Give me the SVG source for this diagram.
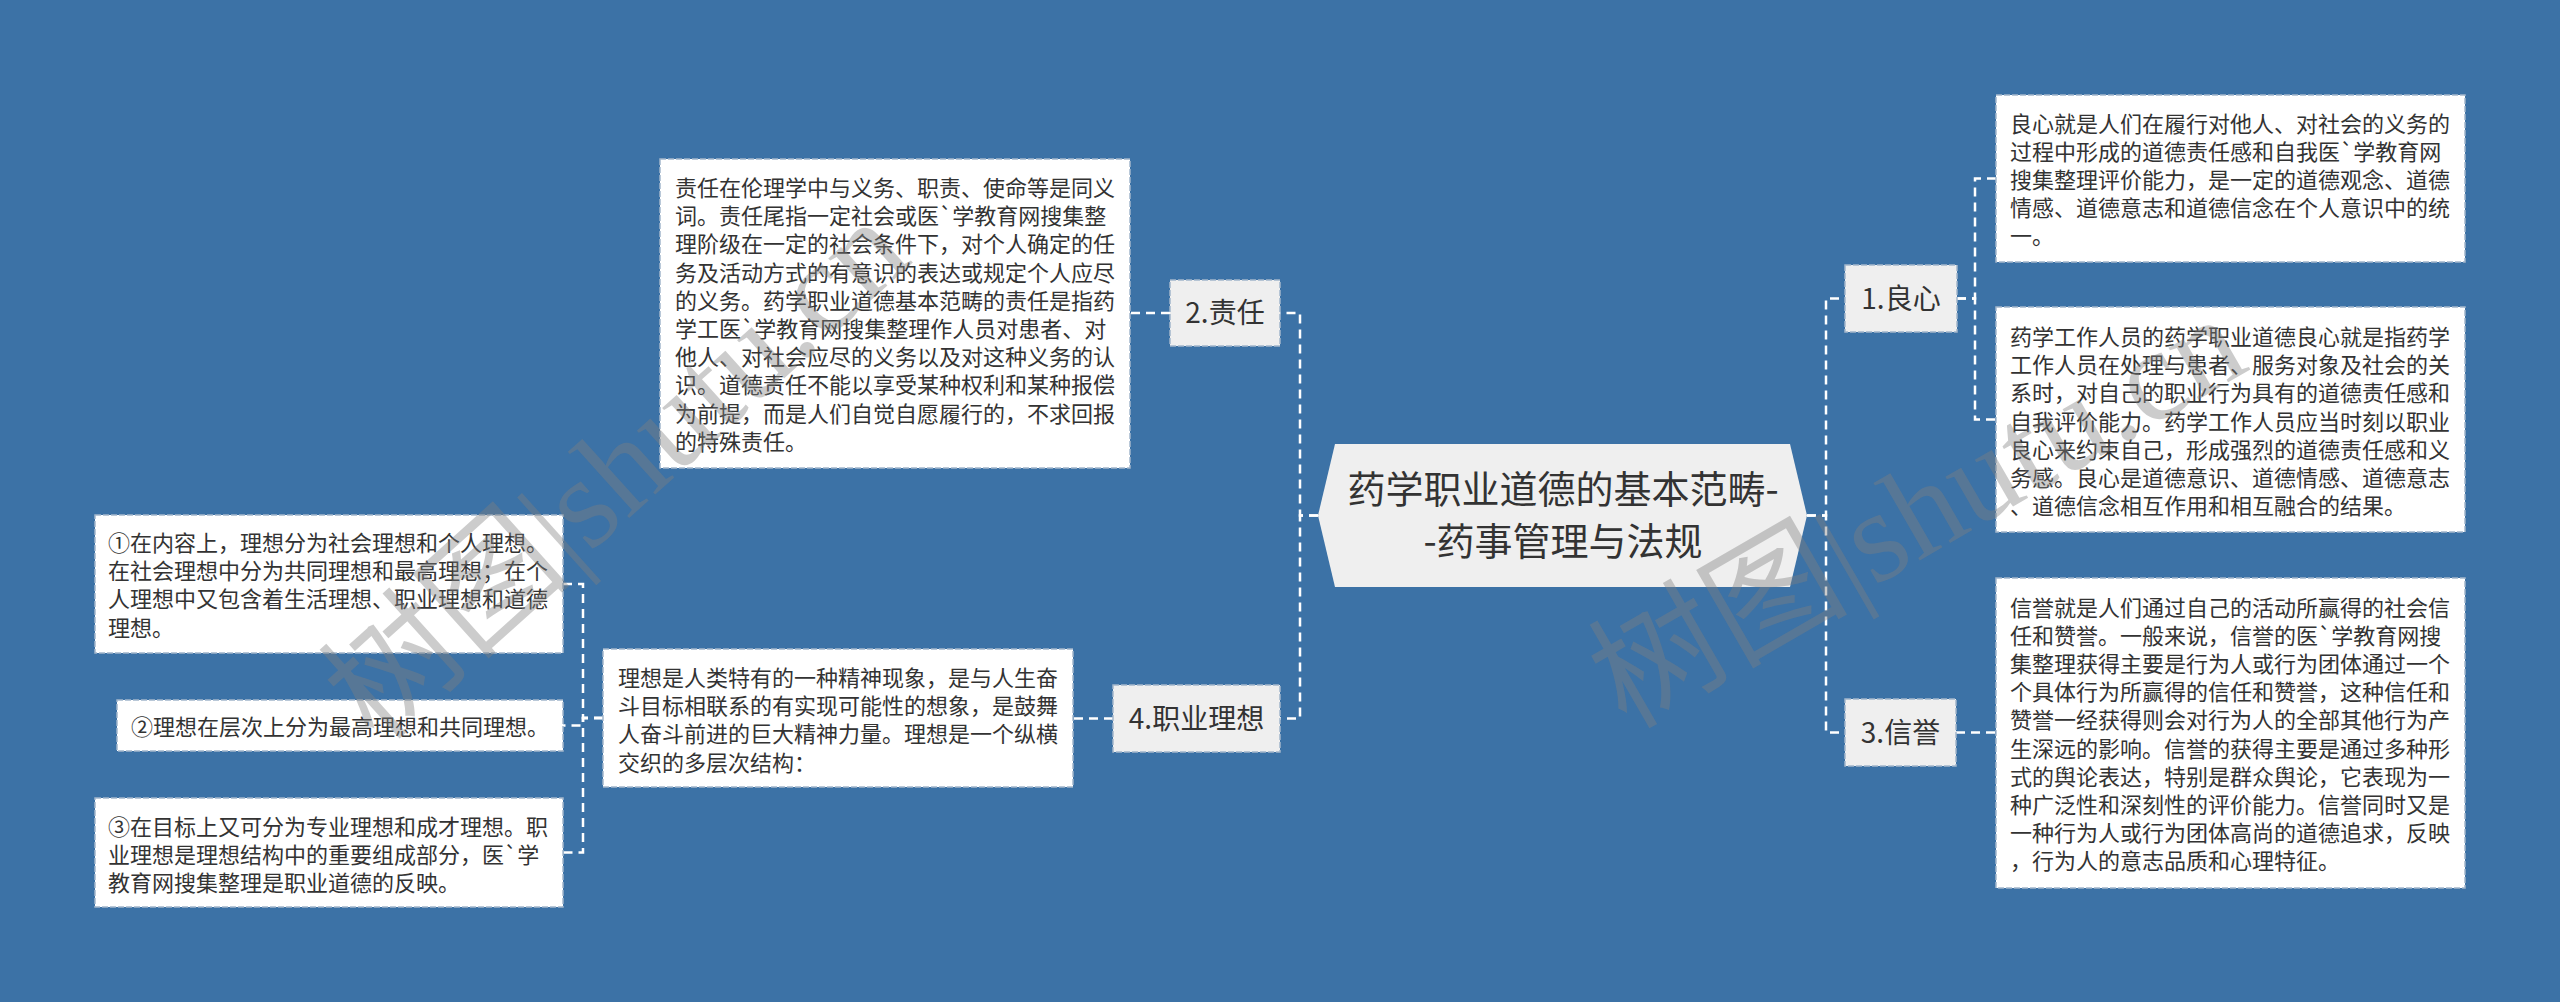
<svg xmlns="http://www.w3.org/2000/svg" width="2560" height="1002" viewBox="0 0 2560 1002">
<style>
.bg{fill:#3c72a6}
.leaf{fill:#ffffff;stroke:#a3b7cb;stroke-width:1.5;stroke-dasharray:6 2}
.branch{fill:#efefef;stroke:#a3b7cb;stroke-width:1.5;stroke-dasharray:6 2}
.t{font-family:"Noto Sans CJK SC","Noto Sans",sans-serif;font-size:22px;fill:#333333}
.bt{font-family:"Noto Sans CJK SC","Noto Sans",sans-serif;font-size:28px;fill:#333333;text-anchor:middle}
.ct{font-family:"Noto Sans CJK SC","Noto Sans",sans-serif;font-size:38px;fill:#333333;text-anchor:middle}
.c{fill:none;stroke:#ffffff;stroke-width:2.5;stroke-dasharray:9 6}
.wm{font-family:"Liberation Serif","Noto Sans CJK SC",serif;font-size:130px;fill:#808080;fill-opacity:0.4}
</style>
<rect class="bg" x="0" y="0" width="2560" height="1002"/>
<g id="connectors">
<path class="c" d="M1807 515.5 H1826 V298.5 H1845"/>
<path class="c" d="M1807 515.5 H1826 V732.5 H1845"/>
<path class="c" d="M1318 515.5 H1300 V313 H1280"/>
<path class="c" d="M1318 515.5 H1300 V718.5 H1280"/>
<path class="c" d="M1957 298.5 H1975 V178.5 H1996"/>
<path class="c" d="M1957 298.5 H1975 V419.5 H1996"/>
<path class="c" d="M1956 732.5 H1996"/>
<path class="c" d="M1170 313 H1130"/>
<path class="c" d="M1113 718.5 H1073"/>
<path class="c" d="M603 718 H583 V584 H563"/>
<path class="c" d="M603 718 H583 V725.5 H563"/>
<path class="c" d="M603 718 H583 V852.5 H563"/>
</g>
<g id="root">
<polygon points="1335,444 1790,444 1807,515.5 1790,587 1335,587 1318,515.5" fill="#efefef"/>
<text class="ct" x="1563" y="503">药学职业道德的基本范畴-</text>
<text class="ct" x="1563" y="555">-药事管理与法规</text>
</g>
<g id="b1">
<rect class="branch" x="1845" y="265" width="112" height="67"/>
<text class="bt" x="1901" y="308.5">1.良心</text>
</g>
<g id="b3">
<rect class="branch" x="1845" y="699" width="111" height="67"/>
<text class="bt" x="1900.5" y="742.5">3.信誉</text>
</g>
<g id="b2">
<rect class="branch" x="1170" y="280" width="110" height="66"/>
<text class="bt" x="1225" y="323">2.责任</text>
</g>
<g id="b4">
<rect class="branch" x="1113" y="685" width="167" height="67"/>
<text class="bt" x="1196.5" y="728.5">4.职业理想</text>
</g>
<g id="l1a">
<rect class="leaf" x="1996" y="95" width="469" height="167"/>
<text class="t" x="2010" y="131.5">良心就是人们在履行对他人、对社会的义务的</text>
<text class="t" x="2010" y="159.7">过程中形成的道德责任感和自我医`学教育网</text>
<text class="t" x="2010" y="187.9">搜集整理评价能力，是一定的道德观念、道德</text>
<text class="t" x="2010" y="216.1">情感、道德意志和道德信念在个人意识中的统</text>
<text class="t" x="2010" y="244.3">一。</text>
</g>
<g id="l1b">
<rect class="leaf" x="1996" y="307" width="469" height="225"/>
<text class="t" x="2010" y="345">药学工作人员的药学职业道德良心就是指药学</text>
<text class="t" x="2010" y="373.2">工作人员在处理与患者、服务对象及社会的关</text>
<text class="t" x="2010" y="401.4">系时，对自己的职业行为具有的道德责任感和</text>
<text class="t" x="2010" y="429.6">自我评价能力。药学工作人员应当时刻以职业</text>
<text class="t" x="2010" y="457.8">良心来约束自己，形成强烈的道德责任感和义</text>
<text class="t" x="2010" y="486">务感。良心是道德意识、道德情感、道德意志</text>
<text class="t" x="2010" y="514.2">、道德信念相互作用和相互融合的结果。</text>
</g>
<g id="l3">
<rect class="leaf" x="1996" y="578" width="469" height="310"/>
<text class="t" x="2010" y="615.5">信誉就是人们通过自己的活动所赢得的社会信</text>
<text class="t" x="2010" y="643.7">任和赞誉。一般来说，信誉的医`学教育网搜</text>
<text class="t" x="2010" y="671.9">集整理获得主要是行为人或行为团体通过一个</text>
<text class="t" x="2010" y="700.1">个具体行为所赢得的信任和赞誉，这种信任和</text>
<text class="t" x="2010" y="728.3">赞誉一经获得则会对行为人的全部其他行为产</text>
<text class="t" x="2010" y="756.5">生深远的影响。信誉的获得主要是通过多种形</text>
<text class="t" x="2010" y="784.7">式的舆论表达，特别是群众舆论，它表现为一</text>
<text class="t" x="2010" y="812.9">种广泛性和深刻性的评价能力。信誉同时又是</text>
<text class="t" x="2010" y="841.1">一种行为人或行为团体高尚的道德追求，反映</text>
<text class="t" x="2010" y="869.3">，行为人的意志品质和心理特征。</text>
</g>
<g id="l2">
<rect class="leaf" x="660" y="159" width="470" height="309"/>
<text class="t" x="675" y="196">责任在伦理学中与义务、职责、使命等是同义</text>
<text class="t" x="675" y="224.2">词。责任尾指一定社会或医`学教育网搜集整</text>
<text class="t" x="675" y="252.4">理阶级在一定的社会条件下，对个人确定的任</text>
<text class="t" x="675" y="280.6">务及活动方式的有意识的表达或规定个人应尽</text>
<text class="t" x="675" y="308.8">的义务。药学职业道德基本范畴的责任是指药</text>
<text class="t" x="675" y="337">学工医`学教育网搜集整理作人员对患者、对</text>
<text class="t" x="675" y="365.2">他人、对社会应尽的义务以及对这种义务的认</text>
<text class="t" x="675" y="393.4">识。道德责任不能以享受某种权利和某种报偿</text>
<text class="t" x="675" y="421.6">为前提，而是人们自觉自愿履行的，不求回报</text>
<text class="t" x="675" y="449.8">的特殊责任。</text>
</g>
<g id="l4">
<rect class="leaf" x="603" y="649" width="470" height="138"/>
<text class="t" x="618" y="686">理想是人类特有的一种精神现象，是与人生奋</text>
<text class="t" x="618" y="714.2">斗目标相联系的有实现可能性的想象，是鼓舞</text>
<text class="t" x="618" y="742.4">人奋斗前进的巨大精神力量。理想是一个纵横</text>
<text class="t" x="618" y="770.6">交织的多层次结构：</text>
</g>
<g id="l4a">
<rect class="leaf" x="95" y="515" width="468" height="138"/>
<text class="t" x="108" y="551">①在内容上，理想分为社会理想和个人理想。</text>
<text class="t" x="108" y="579.2">在社会理想中分为共同理想和最高理想；在个</text>
<text class="t" x="108" y="607.4">人理想中又包含着生活理想、职业理想和道德</text>
<text class="t" x="108" y="635.6">理想。</text>
</g>
<g id="l4b">
<rect class="leaf" x="117" y="700" width="446" height="51"/>
<text class="t" x="131" y="735">②理想在层次上分为最高理想和共同理想。</text>
</g>
<g id="l4c">
<rect class="leaf" x="95" y="798" width="468" height="109"/>
<text class="t" x="108" y="834.5">③在目标上又可分为专业理想和成才理想。职</text>
<text class="t" x="108" y="862.7">业理想是理想结构中的重要组成部分，医`学</text>
<text class="t" x="108" y="890.9">教育网搜集整理是职业道德的反映。</text>
</g>
<g id="watermarks">
<text class="wm" transform="translate(377,745) rotate(-42)">树图|shutu.cn</text>
<text class="wm" transform="translate(1626,730) rotate(-30)">树图|shutu.cn</text>
</g>
</svg>
